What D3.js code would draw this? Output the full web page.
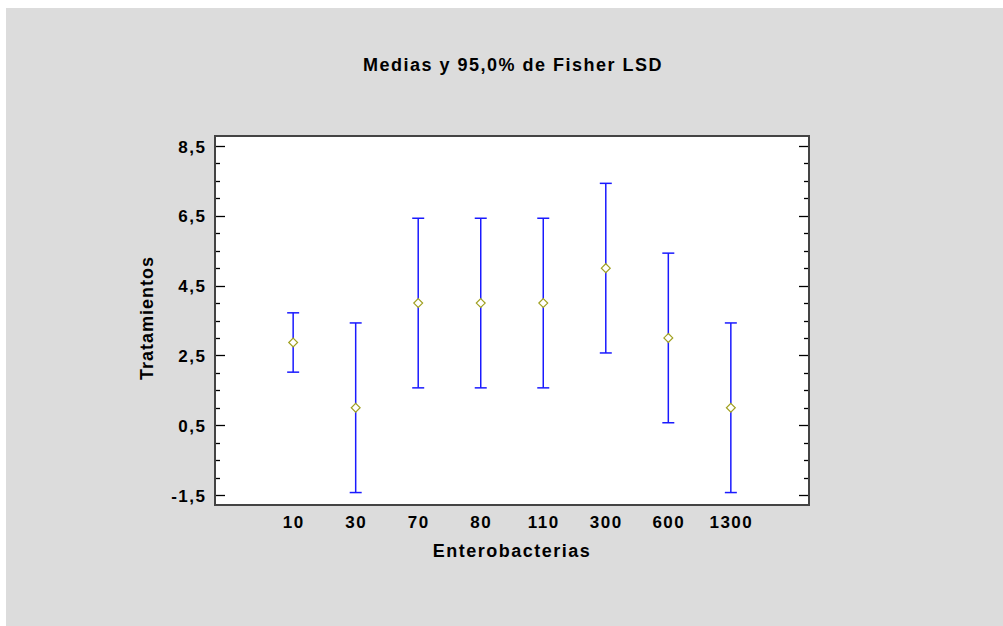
<!DOCTYPE html>
<html>
<head>
<meta charset="utf-8">
<script src="https://cdn.jsdelivr.net/npm/d3@7"></script>
<style>
  body { margin: 0; background: #fff; }
  text { font-family: "Liberation Sans", Arial, sans-serif; font-weight: bold; fill: #000; }
</style>
</head>
<body>
<div class="canvas"></div>
<script>
// datos
const categorias = ['10', '30', '70', '80', '110', '300', '600', '1300'];
const medias = [2.87, 1.0, 4.0, 4.0, 4.0, 5.0, 3.0, 1.0];
const limInf = [2.02, -1.43, 1.57, 1.57, 1.57, 2.57, 0.57, -1.43];
const limSup = [3.72, 3.43, 6.43, 6.43, 6.43, 7.43, 5.43, 3.43];
const yTicks = [-1.5, 0.5, 2.5, 4.5, 6.5, 8.5];

const W = 1003, H = 626;
const plot = { left: 215, top: 136, right: 809, bottom: 505 };

const svg = d3.select('.canvas')
    .append('svg')
    .attr('width', W)
    .attr('height', H);

// fondo gris
svg.append('rect')
    .attr('x', 6).attr('y', 8)
    .attr('width', W - 6).attr('height', H - 8)
    .attr('fill', '#dcdcdc');

// escalas
const x = d3.scaleLinear()
    .domain([-1.25, categorias.length - 1 + 1.25])
    .range([plot.left, plot.right]);

const y = d3.scaleLinear()
    .domain([-1.5 - 10 / 34.9, 8.5 + 10 / 34.9])
    .range([plot.bottom, plot.top]);

// area del grafico
svg.append('rect')
    .attr('x', plot.left).attr('y', plot.top)
    .attr('width', plot.right - plot.left)
    .attr('height', plot.bottom - plot.top)
    .attr('fill', '#fff');

// ticks menores y mayores (izquierda y derecha)
const minor = d3.range(-1.5, 8.51, 0.5);
// coma decimal y guion normal como signo menos
const fmt = v => v.toFixed(1).replace('.', ',');

const yAxisL = d3.axisLeft(y).tickValues(yTicks).tickSize(0).tickPadding(8.5).tickFormat(fmt);
const gL = svg.append('g').attr('transform', `translate(${plot.left},0)`).call(yAxisL);
gL.select('.domain').remove();
gL.selectAll('text')
    .style('font-size', '17px')
    .style('letter-spacing', '1.5px')
    .attr('dy', '0.36em')
    .attr('font-family', null);

const tickG = svg.append('g').attr('stroke', '#000').attr('stroke-width', 1.3);
minor.forEach(v => {
    const major = yTicks.some(t => Math.abs(t - v) < 1e-6);
    const len = major ? 10 : 5;
    tickG.append('line')
        .attr('x1', plot.left).attr('x2', plot.left + len)
        .attr('y1', Math.round(y(v)) + 0.5).attr('y2', Math.round(y(v)) + 0.5);
    tickG.append('line')
        .attr('x1', plot.right).attr('x2', plot.right - len)
        .attr('y1', Math.round(y(v)) + 0.5).attr('y2', Math.round(y(v)) + 0.5);
});

// etiquetas eje x
const xAxis = d3.axisBottom(x)
    .tickValues(d3.range(categorias.length))
    .tickSize(0).tickPadding(11)
    .tickFormat(i => categorias[i]);
const gX = svg.append('g').attr('transform', `translate(0,${plot.bottom})`).call(xAxis);
gX.select('.domain').remove();
gX.selectAll('text')
    .style('font-size', '17px')
    .style('letter-spacing', '1.5px')
    .attr('font-family', null);

// barras de error
const grupos = svg.append('g').selectAll('g')
    .data(categorias)
    .enter().append('g');

grupos.append('line')
    .attr('x1', (d, i) => x(i)).attr('x2', (d, i) => x(i))
    .attr('y1', (d, i) => y(limInf[i])).attr('y2', (d, i) => y(limSup[i]))
    .attr('stroke', '#1a1aff').attr('stroke-width', 1.5);

[limInf, limSup].forEach(lim => {
    grupos.append('line')
        .attr('x1', (d, i) => x(i) - 6).attr('x2', (d, i) => x(i) + 6)
        .attr('y1', (d, i) => y(lim[i])).attr('y2', (d, i) => y(lim[i]))
        .attr('stroke', '#1a1aff').attr('stroke-width', 1.5);
});

// medias como rombos
const sym = d3.symbol().type(d3.symbolDiamond2).size(50);
grupos.append('path')
    .attr('d', sym)
    .attr('transform', (d, i) => `translate(${x(i)},${y(medias[i])})`)
    .attr('fill', '#fff')
    .attr('stroke', '#a0a020')
    .attr('stroke-width', 1.2);

// marco
svg.append('rect')
    .attr('x', plot.left).attr('y', plot.top)
    .attr('width', plot.right - plot.left)
    .attr('height', plot.bottom - plot.top)
    .attr('fill', 'none')
    .attr('stroke', '#444')
    .attr('stroke-width', 2);

// titulos
svg.append('text')
    .attr('x', 513).attr('y', 71)
    .attr('text-anchor', 'middle')
    .style('font-size', '18px')
    .style('letter-spacing', '1.5px')
    .text('Medias y 95,0% de Fisher LSD');

svg.append('text')
    .attr('x', 512).attr('y', 557)
    .attr('text-anchor', 'middle')
    .style('font-size', '18px')
    .style('letter-spacing', '1.5px')
    .text('Enterobacterias');

svg.append('text')
    .attr('transform', 'translate(153,318) rotate(-90)')
    .attr('text-anchor', 'middle')
    .style('font-size', '18px')
    .style('letter-spacing', '1px')
    .text('Tratamientos');
</script>
</body>
</html>
